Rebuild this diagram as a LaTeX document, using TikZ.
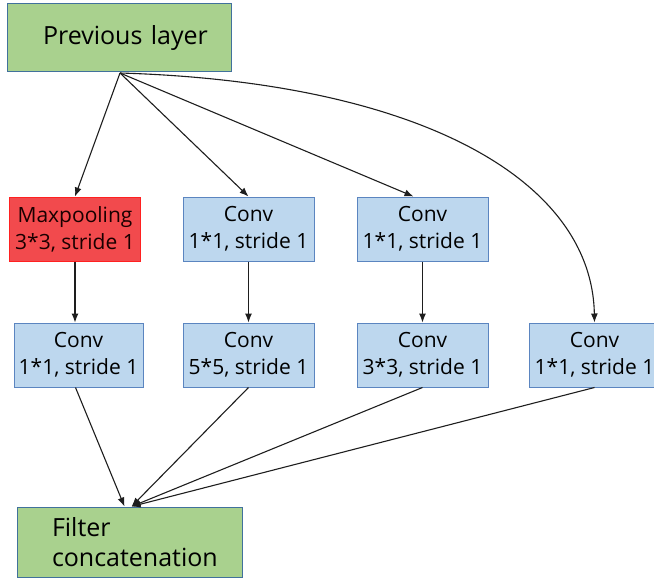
\documentclass[tikz,border=0pt]{standalone}
\usepackage{fontspec}
\setmainfont{Open Sans}
\usetikzlibrary{arrows.meta}
\definecolor{greenfill}{HTML}{A9D18E}
\definecolor{greenline}{HTML}{41719C}
\definecolor{bluefill}{HTML}{BDD7EE}
\definecolor{blueline}{HTML}{5B85C0}
\definecolor{redfill}{HTML}{F24A4D}
\definecolor{redline}{HTML}{FF2020}
\definecolor{arrowcol}{HTML}{1E1E1E}
\tikzset{
  box/.style={draw, line width=1pt, inner sep=0pt, align=center,
    font=\fontsize{21}{27}\selectfont, text=black},
  bluebox/.style={box, fill=bluefill, draw=blueline, minimum width=131pt, minimum height=64pt},
  redbox/.style={box, fill=redfill, draw=redline, minimum width=131pt, minimum height=64pt, text=black!90!red},
  greenbox/.style={box, fill=greenfill, draw=greenline, font=\fontsize{25}{30}\selectfont},
  conn/.style={draw=arrowcol, line width=1.1pt, -{Latex[length=9pt,width=7pt]}}
}
\begin{document}
\begin{tikzpicture}[x=1pt,y=-1pt]
\useasboundingbox (0,0) rectangle (654,578);
\node[greenbox, minimum width=224pt, minimum height=68pt, text width=224pt, align=left] (prev) at (119,38) {\hspace*{36pt}Previous layer};
\coordinate (src) at (120,73);
\node[redbox] (mp) at (75,229) {Maxpooling\\3*3, stride 1};
\node[bluebox] (c2a) at (248.5,229) {Conv\\1*1, stride 1};
\node[bluebox] (c3a) at (422.5,229) {Conv\\1*1, stride 1};
\node[bluebox, minimum width=129pt] (c1b) at (78.5,355) {Conv\\1*1, stride 1};
\node[bluebox] (c2b) at (248.5,355) {Conv\\5*5, stride 1};
\node[bluebox] (c3b) at (422.5,355) {Conv\\3*3, stride 1};
\node[bluebox] (c4b) at (594.5,355) {Conv\\1*1, stride 1};
\node[greenbox, minimum width=225pt, minimum height=70pt, text width=225pt, align=left] (filt) at (129.5,542) {\hspace*{35pt}Filter\\\hspace*{35pt}concatenation};
\draw[conn] (src) -- (mp.north);
\draw[conn] (src) -- (c2a.north);
\draw[conn] (src) -- ([xshift=-9pt]c3a.north);
\draw[conn] (src) .. controls (420,82) and (592,180) .. (c4b.north);
\draw[conn] (mp) -- (mp |- c1b.north);
\draw[conn] (c2a) -- (c2b);
\draw[conn] (c3a) -- (c3b);
\draw[conn] ([xshift=-3pt]c1b.south) -- ([xshift=-5pt]filt.north);
\draw[conn] (c2b.south) -- ([xshift=2pt]filt.north);
\draw[conn] (c3b.south) -- ([xshift=2pt]filt.north);
\draw[conn] (c4b.south) -- ([xshift=2pt]filt.north);
\end{tikzpicture}
\end{document}
